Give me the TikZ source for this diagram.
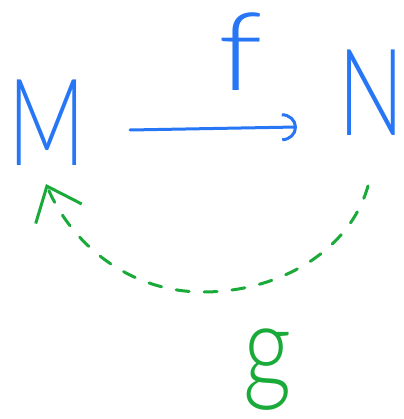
\documentclass[tikz,border=0pt]{standalone}
\usepackage{fontspec}
\newfontfamily\hand{Lato Light}
\usetikzlibrary{arrows.meta}
\definecolor{penblue}{RGB}{38,118,245}
\definecolor{pengreen}{RGB}{26,170,58}
\tikzset{
  obj/.style={inner sep=0pt, text=penblue, font=\hand\fontsize{121}{121}\selectfont},
  lbl/.style={inner sep=0pt, font=\hand\fontsize{118}{118}\selectfont},
  pen/.style={line width=3pt, line cap=round, line join=round},
}
\begin{document}
\begin{tikzpicture}[x=1pt,y=-1pt]
\useasboundingbox (0,0) rectangle (403,419);
\node[obj, xscale=0.7] (M) at (47,123) {M};
\node[obj, xscale=0.72] (N) at (371,93) {N};
\node[lbl, text=penblue, xscale=1.1, yscale=0.92] (f) at (241,52) {f};
\node[lbl, text=pengreen, xscale=0.8] (g) at (268,370) {g};
\coordinate (fs) at (130,130);
\coordinate (fe) at (297,127);
\draw[pen, penblue, -{Arc Barb[length=15pt,width=28pt]}] (fs) -- (fe);
\coordinate (gs) at (368,186);
\coordinate (gm) at (203,292);
\coordinate (ge) at (46,184);
\draw[pen, pengreen, dash pattern=on 13pt off 15pt, -{Straight Barb[length=30pt,width=50pt]}]
  (gs) .. controls (350,250) and (280,292) .. (gm)
       .. controls (130,292) and (72,245) .. (ge);
\end{tikzpicture}
\end{document}
